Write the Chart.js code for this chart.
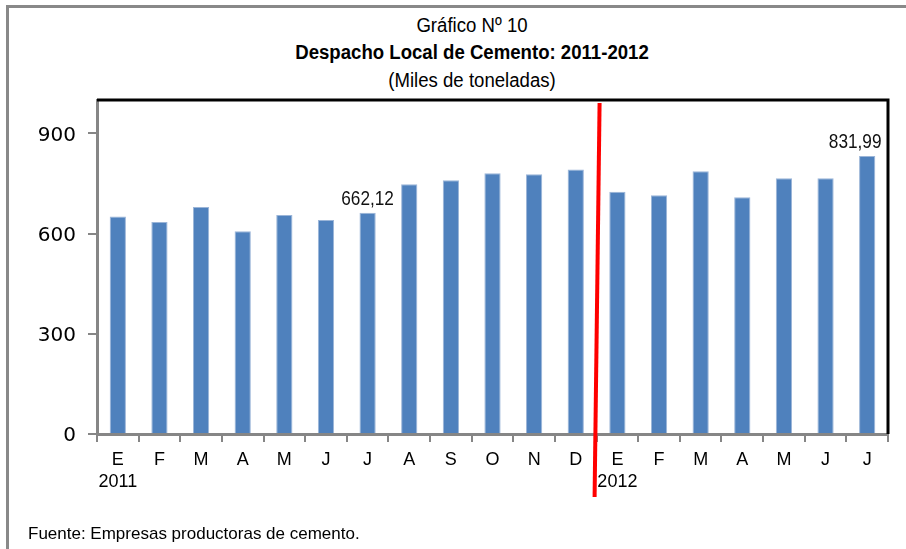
<!DOCTYPE html>
<html>
<head>
<meta charset="utf-8">
<script src="https://cdn.jsdelivr.net/npm/chart.js@4.4.1/dist/chart.umd.min.js"></script>
<style>
  html, body { margin: 0; padding: 0; background: #fff; }
  #wrap { position: relative; width: 906px; height: 549px; overflow: hidden; background: #fff; }
  #frame { position: absolute; left: 6px; top: 5px; width: 1000px; height: 1000px;
           border-left: 3px solid #898989; border-top: 3px solid #898989; }
  .t { position: absolute; left: 472px; transform: translateX(-50%) scaleX(0.93); white-space: nowrap;
       font-family: "Liberation Sans", Arial, sans-serif;
       font-size: 20px; line-height: 20px; color: #000; }
  #t1 { top: 15px; }
  #t2 { top: 42px; font-weight: bold; }
  #t3 { top: 70px; }
  #foot { position: absolute; left: 28px; top: 525px; white-space: nowrap;
          font-family: "Liberation Sans", Arial, sans-serif;
          font-size: 17px; line-height: 17px; color: #000; }
  canvas { position: absolute; left: 0; top: 0; }
</style>
</head>
<body>
<div id="wrap">
  <div id="frame"></div>
  <div class="t" id="t1">Gráfico Nº 10</div>
  <div class="t" id="t2">Despacho Local de Cemento: 2011-2012</div>
  <div class="t" id="t3">(Miles de toneladas)</div>
  <canvas id="c" width="906" height="549"></canvas>
  <div id="foot">Fuente: Empresas productoras de cemento.</div>
</div>
<script>
// ---- data ----
const months = ["E","F","M","A","M","J","J","A","S","O","N","D","E","F","M","A","M","J","J"];
const years  = ["2011","","","","","","","","","","","","2012","","","","","",""];
const despacho = [651, 635, 680, 607, 656, 641, 662.12, 748, 760, 781, 778, 792, 725, 715, 787, 709, 766, 766, 831.99];
const labeledIdx = [6, 18];
const yTicks = [0, 300, 600, 900];

const categories = months.map((m, i) => years[i] ? [m, years[i]] : m);
const splitIdx = years.indexOf("2012");

const SANS = '"Liberation Sans", Arial, sans-serif';

const frameAndLabels = {
  id: 'frameAndLabels',
  afterDatasetsDraw(chart) {
    const ctx = chart.ctx;
    const meta = chart.getDatasetMeta(0);
    ctx.save();
    ctx.font = '21px ' + SANS;
    ctx.fillStyle = '#111';
    ctx.textAlign = 'center';
    ctx.textBaseline = 'alphabetic';
    labeledIdx.forEach(i => {
      const el = meta.data[i];
      const txt = despacho[i].toFixed(2).replace('.', ',');
      const dx = (i === despacho.length - 1) ? -12 : 0;
      ctx.save();
      ctx.translate(el.x + dx, el.y - 8);
      ctx.scale(0.82, 1);
      ctx.fillText(txt, 0, 0);
      ctx.restore();
    });
    ctx.restore();
  },
  afterDraw(chart) {
    const ctx = chart.ctx;
    const a = chart.chartArea;
    ctx.save();
    // black top and right border of plot area
    ctx.strokeStyle = '#000';
    ctx.lineWidth = 3;
    ctx.beginPath();
    ctx.moveTo(a.left, a.top);
    ctx.lineTo(a.right, a.top);
    ctx.lineTo(a.right, a.bottom);
    ctx.stroke();
    // red divider between years
    const xs = chart.scales.x;
    const xm = (xs.getPixelForValue(splitIdx - 1) + xs.getPixelForValue(splitIdx)) / 2;
    ctx.strokeStyle = '#ff0000';
    ctx.lineWidth = 4;
    ctx.beginPath();
    ctx.moveTo(xm + 3, a.top + 3);
    ctx.lineTo(xm - 2, a.bottom + 63);
    ctx.stroke();
    ctx.restore();
  }
};

new Chart(document.getElementById('c'), {
  type: 'bar',
  data: {
    labels: categories,
    datasets: [{
      data: despacho,
      backgroundColor: '#4F81BD',
      borderColor: '#9BB5D8',
      borderWidth: 1,
      categoryPercentage: 1,
      barPercentage: 0.39
    }]
  },
  options: {
    responsive: false,
    animation: false,
    devicePixelRatio: 1,
    layout: { padding: { top: 100, right: 18, bottom: 45, left: 0 } },
    plugins: { legend: { display: false }, tooltip: { enabled: false }, title: { display: false } },
    scales: {
      x: {
        offset: true,
        border: { display: true, color: '#868686', width: 3 },
        grid: { display: true, drawOnChartArea: false, drawTicks: true, tickLength: 8, color: '#868686', lineWidth: 2, offset: true },
        ticks: { color: '#000', padding: 7, maxRotation: 0, autoSkip: false,
                 font: { family: SANS, size: 18, lineHeight: 1.22 } },
        afterFit(scale) { scale.height = 70; }
      },
      y: {
        min: 0, max: 1000,
        border: { display: true, color: '#868686', width: 3 },
        grid: { display: true, drawOnChartArea: false, drawTicks: true, tickLength: 9, color: '#868686', lineWidth: 2 },
        ticks: { stepSize: 300, color: '#000', padding: 12, labelOffset: 2,
                 font: { family: '"DejaVu Sans", sans-serif', size: 20 } },
        afterBuildTicks(scale) { scale.ticks = yTicks.map(v => ({ value: v })); },
        afterFit(scale) { scale.width = 97; }
      }
    }
  },
  plugins: [frameAndLabels]
});
</script>
</body>
</html>
